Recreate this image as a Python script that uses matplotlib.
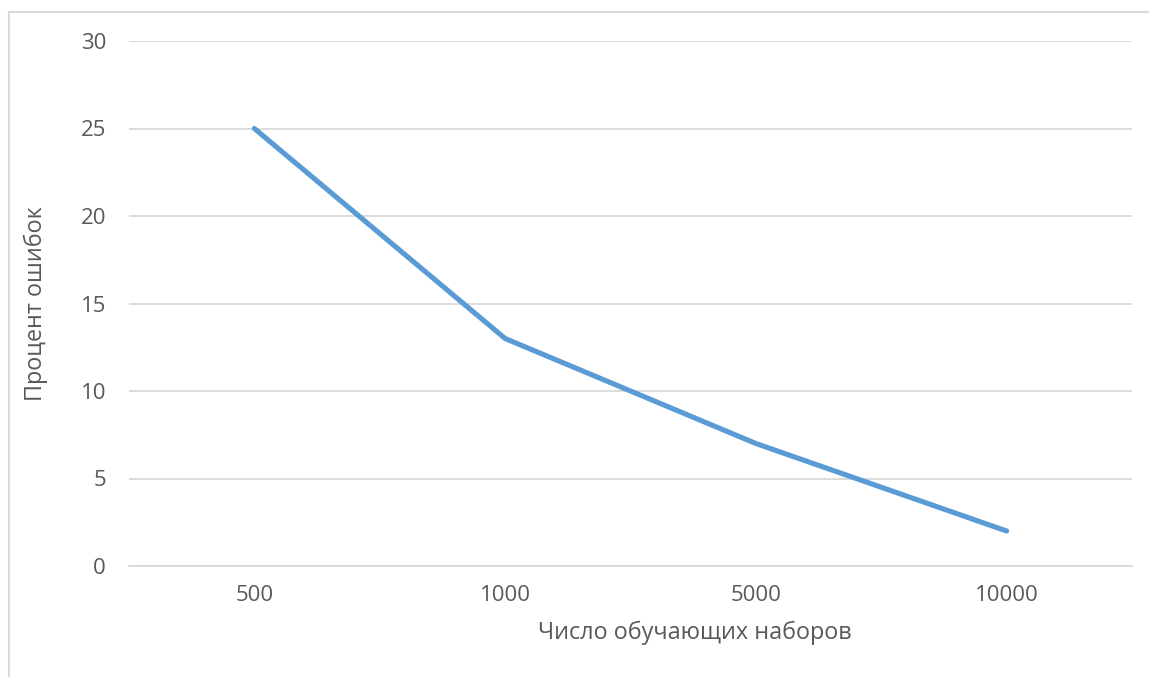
import matplotlib.pyplot as plt
from matplotlib.patches import Rectangle

sizes = ["500", "1000", "5000", "10000"]
errors = [25, 13, 7, 2]

plt.rcParams['font.family'] = ['Open Sans', 'DejaVu Sans']
grey = "#595959"

fig = plt.figure(figsize=(11.49, 6.77), dpi=100)
ax = fig.add_axes([129 / 1149, 1 - 566 / 677, (1132 - 129) / 1149, (566 - 41) / 677])

x = list(range(len(sizes)))
ax.plot(x, errors, color="#5B9BD5", linewidth=3.7, solid_capstyle="round", solid_joinstyle="round", zorder=3)

ax.set_xlim(-0.5, len(sizes) - 0.5)
ax.set_ylim(0, 30)
ax.set_yticks(range(0, 31, 5))
ax.set_xticks(x)
ax.set_xticklabels(sizes)
ax.grid(axis="y", color="#D9D9D9", linewidth=1.3)
ax.set_axisbelow(True)
for s in ["top", "right", "left"]:
    ax.spines[s].set_visible(False)
ax.spines["bottom"].set_color("#D9D9D9")
ax.spines["bottom"].set_linewidth(1.3)
ax.tick_params(length=0, labelsize=16, labelcolor=grey)
ax.tick_params(axis="y", pad=16.5)
ax.tick_params(axis="x", pad=14)

ax.set_xlabel("Число обучающих наборов", fontsize=16.8, color=grey)
ax.xaxis.set_label_coords(0.564, -0.105)
ax.set_ylabel("Процент ошибок", fontsize=16.8, color=grey, labelpad=23.5)

# chart area frame
fig.patches.append(Rectangle((8.5 / 1149, -0.5), 2, 1.5 - 11.5 / 677,
                             transform=fig.transFigure, fill=False,
                             edgecolor="#D9D9D9", linewidth=1.5))

fig.savefig("out.png", dpi=100)
